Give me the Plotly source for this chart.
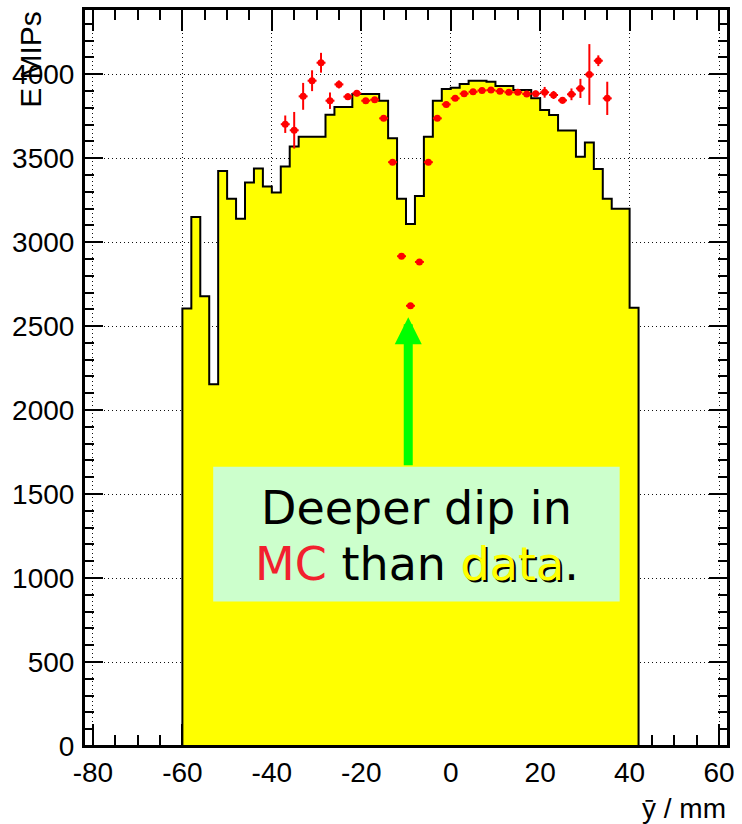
import plotly.graph_objects as go

# ---- data -----------------------------------------------------------------
# simulated (MC) energy per 2 mm bin, bins from -60 mm to 42 mm
bin_low_edges = list(range(-60, 42, 2))
bin_width = 2
mc_energy = [2605, 3149, 2678, 2154, 3424, 3258, 3139, 3355, 3438, 3331,
             3296, 3450, 3569, 3628, 3628, 3628, 3759, 3804, 3804, 3882,
             3882, 3882, 3842, 3618, 3258, 3108, 3274, 3628, 3842, 3911,
             3919, 3941, 3961, 3961, 3955, 3929, 3929, 3905, 3905, 3856,
             3787, 3757, 3664, 3664, 3509, 3593, 3436, 3258, 3199, 3199, 2609]

# measured points (bin centres) with their uncertainties
data_pos = list(range(-37, 36, 2))
data_energy = [3702, 3666, 3868, 3961, 4068, 3842, 3939, 3866, 3886, 3842,
               3848, 3737, 3476, 2916, 2621, 2882, 3476, 3737, 3820, 3856,
               3884, 3895, 3903, 3905, 3899, 3892, 3892, 3882, 3884, 3892,
               3876, 3844, 3880, 3915, 3998, 4080, 3856]
data_err = [52, 109, 80, 62, 59, 49, 24, 20, 18, 15,
            15, 12, 12, 12, 12, 12, 12, 12, 12, 12,
            12, 12, 12, 12, 12, 12, 14, 14, 18, 32,
            24, 20, 35, 57, 181, 32, 99]
data_halfwidth = [1] * len(data_pos)

x_tick_vals = [-80, -60, -40, -20, 0, 20, 40, 60]
x_tick_text = ["-80", "-60", "-40", "-20", "0", "20", "40", "60"]
y_tick_vals = [0, 500, 1000, 1500, 2000, 2500, 3000, 3500, 4000]
y_tick_text = ["0", "500", "1000", "1500", "2000", "2500", "3000", "3500", "4000"]

# ---- geometry helpers (pixel -> axis units) -------------------------------
W, H = 742, 824
ML, MR, MT, MB = 84, 10, 7, 78
XR = (-82, 62)
YR = (0, 4388)
PW, PH = W - ML - MR, H - MT - MB


def ux(px):
    return XR[0] + (px - ML) / PW * (XR[1] - XR[0])


def uy(py):
    return YR[1] - (py - MT) / PH * (YR[1] - YR[0])


def paper_x(px):
    return (px - ML) / PW


def paper_y(py):
    return (H - MB - py) / PH


# step outline of the histogram
last_edge = bin_low_edges[-1] + bin_width
step_x = [bin_low_edges[0]] + bin_low_edges + [last_edge, last_edge]
step_y = [0] + mc_energy + [mc_energy[-1], 0]

fig = go.Figure()

fig.add_trace(go.Scatter(
    x=step_x, y=step_y, mode="lines", line_shape="hv",
    line=dict(color="black", width=2),
    fill="tozeroy", fillcolor="#ffff00",
    hoverinfo="skip", showlegend=False,
))

fig.add_trace(go.Scatter(
    x=data_pos, y=data_energy, mode="markers",
    marker=dict(color="#ff0000", size=7),
    error_y=dict(type="data", array=data_err, color="#ff0000", thickness=2, width=0),
    error_x=dict(type="data", array=data_halfwidth, color="#ff0000", thickness=2, width=0),
    showlegend=False,
))

tick_font = dict(family="Liberation Sans, Arial, sans-serif", size=28, color="black")

fig.update_xaxes(
    range=list(XR), tickmode="array", tickvals=x_tick_vals, ticktext=x_tick_text,
    ticks="inside", ticklen=22, tickwidth=2, tickcolor="black",
    minor=dict(dtick=5, tick0=0, ticks="inside", ticklen=11, tickwidth=2,
               tickcolor="black", showgrid=False),
    showgrid=True, gridcolor="#111111", gridwidth=1, griddash="1px,3px",
    zeroline=False, showline=True, linecolor="black", linewidth=2,
    mirror="allticks", layer="below traces",
    tickfont=tick_font, ticklabelstandoff=0,
)
fig.update_yaxes(
    range=list(YR), tickmode="array", tickvals=y_tick_vals, ticktext=y_tick_text,
    ticks="inside", ticklen=19, tickwidth=2, tickcolor="black",
    minor=dict(dtick=100, tick0=0, ticks="inside", ticklen=10, tickwidth=2,
               tickcolor="black", showgrid=False),
    showgrid=True, gridcolor="#111111", gridwidth=1, griddash="1px,3px",
    zeroline=False, showline=True, linecolor="black", linewidth=2,
    mirror="allticks",
    tickfont=tick_font, ticklabelstandoff=2,
)

# frame drawn on top of the filled histogram
fig.add_shape(type="rect", xref="paper", yref="paper", x0=0, x1=1, y0=0, y1=1,
              line=dict(color="black", width=2), fillcolor="rgba(0,0,0,0)", layer="above")

# comment box
fig.add_shape(type="rect", xref="x", yref="y",
              x0=ux(214), x1=ux(623), y0=uy(601), y1=uy(466),
              line=dict(width=0), fillcolor="#ccffcc", layer="above")

box_font = dict(family="DejaVu Sans, Verdana, sans-serif", size=46, color="black")
cx = ux(419)
fig.add_annotation(x=cx, y=uy(507), xref="x", yref="y", showarrow=False,
                   text="Deeper dip in", font=box_font,
                   xanchor="center", yanchor="middle")
fig.add_annotation(
    x=cx, y=uy(564), xref="x", yref="y", showarrow=False,
    text=("<span style='color:#f2202e'>MC</span> than "
          "<span style='color:#ffff00;text-shadow:2px 2px 0px #000000'>data</span>."),
    font=box_font, xanchor="center", yanchor="middle")

# green arrow pointing at the dip
fig.add_annotation(x=-9.5, y=uy(316), xref="x", yref="y",
                   ax=-9.5, ay=uy(466), axref="x", ayref="y",
                   text="", showarrow=True, arrowhead=2, arrowsize=0.6,
                   arrowwidth=9, arrowcolor="#00ff00", standoff=0, startstandoff=0)

# axis titles
fig.add_annotation(xref="paper", yref="paper", x=paper_x(30), y=paper_y(7),
                   xanchor="center", yanchor="top", showarrow=False, textangle=-90,
                   text="E MIPs", font=dict(tick_font, size=30))
fig.add_annotation(xref="paper", yref="paper", x=1.0, y=paper_y(809),
                   xanchor="right", yanchor="middle", showarrow=False,
                   text="\u0233 / mm", font=tick_font)

fig.update_layout(
    width=W, height=H,
    margin=dict(l=ML, r=MR, t=MT, b=MB, pad=0),
    paper_bgcolor="white", plot_bgcolor="white",
    showlegend=False,
)

fig.write_html("out.html")
